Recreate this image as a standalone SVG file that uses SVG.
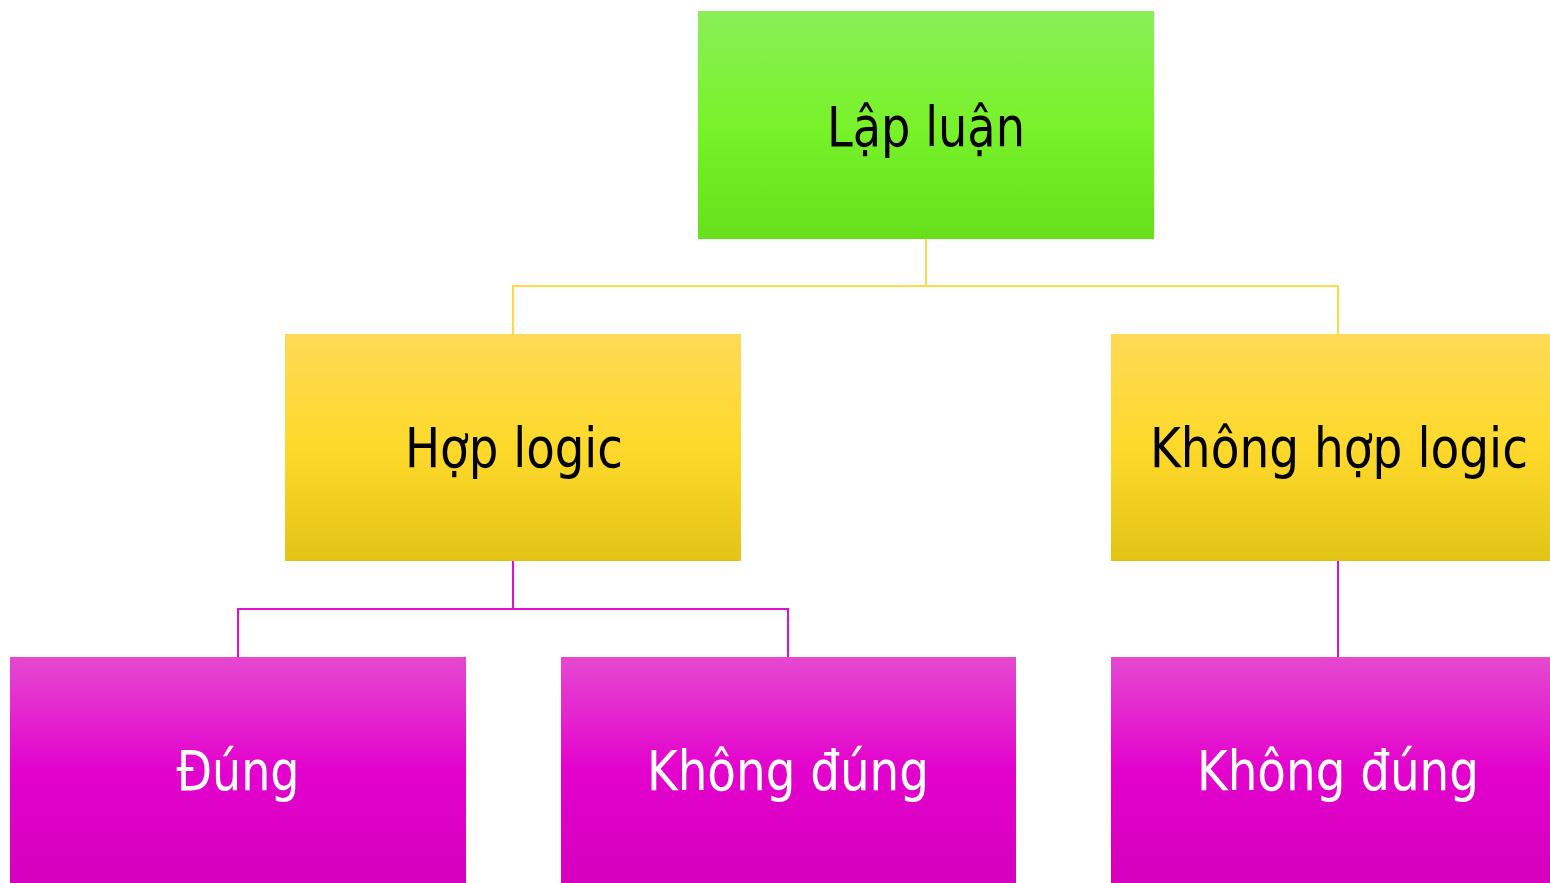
<svg xmlns="http://www.w3.org/2000/svg" width="1550" height="883" viewBox="0 0 1550 883">
<defs>
<linearGradient id="gG" x1="0" y1="0" x2="0" y2="1">
<stop offset="0" stop-color="#8bef57"/><stop offset="0.5" stop-color="#78f22a"/><stop offset="1" stop-color="#65e01a"/>
</linearGradient>
<linearGradient id="gY" x1="0" y1="0" x2="0" y2="1">
<stop offset="0" stop-color="#fed956"/><stop offset="0.5" stop-color="#fed92b"/><stop offset="1" stop-color="#e2c416"/>
</linearGradient>
<linearGradient id="gM" x1="0" y1="0" x2="0" y2="1">
<stop offset="0" stop-color="#e549cf"/><stop offset="0.5" stop-color="#e302cd"/><stop offset="1" stop-color="#d500bd"/>
</linearGradient>
</defs>
<style>
text{font-family:"DejaVu Sans Condensed","DejaVu Sans",sans-serif;font-size:56px;text-anchor:middle}
.dk{fill:#000}
.lt{fill:#fff}
.cy{fill:none;stroke:#fed94a;stroke-width:2}
.cm{fill:none;stroke:#e010d0;stroke-width:2}
</style>
<g id="connectors">
<path class="cy" d="M926 239V286M513 334V286H1338V334"/>
<path class="cm" d="M513 561V609M238 657V609H788V657"/>
<path class="cm" d="M1338 561V657"/>
</g>
<g id="n-lapluan">
<rect x="698" y="11" width="456" height="228" fill="url(#gG)"/>
<text class="dk" x="926" y="146" textLength="198" lengthAdjust="spacingAndGlyphs">Lập luận</text>
</g>
<g id="n-hoplogic">
<rect x="285" y="334" width="456" height="227" fill="url(#gY)"/>
<text class="dk" x="514" y="467" textLength="218" lengthAdjust="spacingAndGlyphs">Hợp logic</text>
</g>
<g id="n-khonghoplogic">
<rect x="1111" y="334" width="439" height="227" fill="url(#gY)"/>
<text class="dk" x="1339" y="467" textLength="378" lengthAdjust="spacingAndGlyphs">Không hợp logic</text>
</g>
<g id="n-dung">
<rect x="10" y="657" width="456" height="226" fill="url(#gM)"/>
<text class="lt" x="238" y="790" textLength="123" lengthAdjust="spacingAndGlyphs">Đúng</text>
</g>
<g id="n-khongdung1">
<rect x="561" y="657" width="455" height="226" fill="url(#gM)"/>
<text class="lt" x="788" y="790" textLength="282" lengthAdjust="spacingAndGlyphs">Không đúng</text>
</g>
<g id="n-khongdung2">
<rect x="1111" y="657" width="439" height="226" fill="url(#gM)"/>
<text class="lt" x="1338" y="790" textLength="282" lengthAdjust="spacingAndGlyphs">Không đúng</text>
</g>
</svg>
